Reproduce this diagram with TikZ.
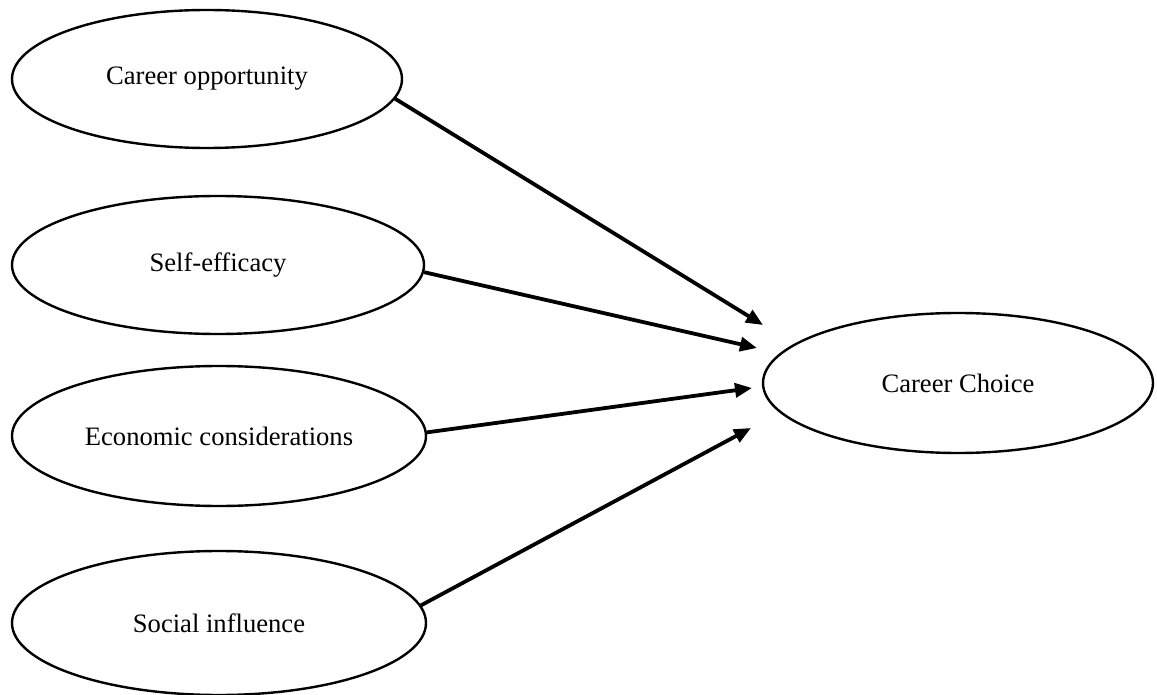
\documentclass[tikz,border=0pt]{standalone}
\usepackage{fontspec}
\setmainfont{Liberation Serif}
\usetikzlibrary{arrows.meta, shapes.geometric}

\begin{document}
\begin{tikzpicture}[
  x=0.5pt, y=-0.5pt,
  factor/.style={draw, ellipse, line width=1.2pt, inner sep=0pt,
    font=\fontsize{13.3}{16}\selectfont},
  link/.style={line width=1.9pt, -{Triangle[length=8.5pt, width=7pt]}}
]

\useasboundingbox (0,0) rectangle (1157,695);

% ------------------------------------------------------------
% Predictors
% ------------------------------------------------------------
\node[factor, minimum width=195pt, minimum height=69pt] (co) at (207,79)
  {Career opportunity};
\node[factor, minimum width=206pt, minimum height=69pt] (se) at (218,265)
  {Self-efficacy};
\node[factor, minimum width=207pt, minimum height=70pt] (ec) at (219,436)
  {Economic considerations};
\node[factor, minimum width=207pt, minimum height=72pt] (si) at (219,623)
  {Social influence};

% ------------------------------------------------------------
% Outcome
% ------------------------------------------------------------
\node[factor, minimum width=195pt, minimum height=70pt] (cc) at (958,383)
  {Career Choice};

\coordinate (t1) at (763,325);
\coordinate (t2) at (757,348);
\coordinate (t3) at (752,388);
\coordinate (t4) at (751,428);

% ------------------------------------------------------------
% Paths
% ------------------------------------------------------------
\draw[link] (co.-6) -- (t1);
\draw[link] (se.-2) -- (t2);
\draw[link] (ec.1) -- (t3);
\draw[link] (si.5) -- (t4);

\end{tikzpicture}
\end{document}
